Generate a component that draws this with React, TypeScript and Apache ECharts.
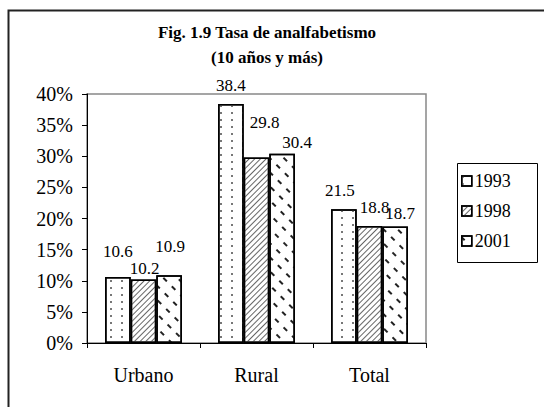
import React, { useEffect, useRef } from 'react';
import * as echarts from 'echarts';

const categories = ['Urbano', 'Rural', 'Total'];
const years = ['1993', '1998', '2001'];
const values1993 = [10.6, 38.4, 21.5];
const values1998 = [10.2, 29.8, 18.8];
const values2001 = [10.9, 30.4, 18.7];
const seriesValues = [values1993, values1998, values2001];
const yMin = 0;
const yMax = 40;
const yStep = 5;

// label nudges (style only), per series per category: [dx, dy]
const labelNudges = [
  [[0, -12], [0, -5], [-4, -5]],
  [[1, 2], [8, -21], [5, -5]],
  [[1, -15], [15, 2], [5, 0]],
];

const FONT = 'Liberation Serif';

const decals: any[] = [
  { symbol: 'rect', symbolSize: 1, dashArrayX: [2, 9], dashArrayY: [2, 5], color: '#777' },
  { symbol: 'rect', symbolSize: 1, dashArrayX: [1, 0], dashArrayY: [1, 2.6], rotation: -Math.PI / 4, color: '#666' },
  { symbol: 'rect', symbolSize: 1, dashArrayX: [5, 7], dashArrayY: [1.5, 8], rotation: Math.PI / 4, color: '#222' },
];

export default function App() {
  const ref = useRef<HTMLDivElement>(null);
  useEffect(() => {
    document.body.style.margin = '0';
    const chart = echarts.init(ref.current!, null, { renderer: 'svg', width: 544, height: 407 });
    const series = years.map((y, si) => ({
      name: y,
      type: 'bar',
      barGap: '0%',
      barCategoryGap: '32%',
      itemStyle: { color: '#fff', borderColor: '#000', borderWidth: 1.5, decal: decals[si] },
      label: {
        show: true,
        position: 'top',
        distance: 5,
        fontFamily: FONT,
        fontSize: 17,
        color: '#000',
      },
      data: seriesValues[si].map((v, ci) => ({
        value: v,
        label: { offset: labelNudges[si][ci], fontFamily: FONT, fontSize: 17 },
      })),
    }));
    chart.setOption({
      animation: false,
      backgroundColor: '#fff',
      textStyle: { fontFamily: FONT },
      title: {
        text: 'Fig. 1.9 Tasa de analfabetismo\n(10 años y más)',
        left: 262,
        top: 15,
        textAlign: 'center',
        textStyle: { fontFamily: FONT, fontWeight: 'bold', fontSize: 17, lineHeight: 25, color: '#000' },
      },
      grid: {
        left: 87,
        top: 94,
        width: 339,
        height: 249,
        show: true,
        borderColor: '#888',
        borderWidth: 1.5,
        backgroundColor: 'transparent',
      },
      legend: {
        data: years,
        orient: 'vertical',
        left: 461,
        top: 172,
        itemWidth: 10,
        itemHeight: 10,
        itemGap: 12,
        padding: 0,
        icon: 'rect',
        itemStyle: { borderColor: '#000', borderWidth: 1.5 },
        textStyle: { fontFamily: FONT, fontSize: 18, color: '#000', padding: [0, 0, 0, -2] },
      },
      xAxis: {
        type: 'category',
        data: categories,
        axisLine: { lineStyle: { color: '#000', width: 1 } },
        axisTick: { show: true, length: 5, lineStyle: { color: '#000' } },
        axisLabel: { fontFamily: FONT, fontSize: 20, color: '#000', margin: 22 },
      },
      yAxis: {
        type: 'value',
        min: yMin,
        max: yMax,
        interval: yStep,
        axisLine: { show: true, lineStyle: { color: '#000', width: 1 } },
        axisTick: { show: true, length: 5, lineStyle: { color: '#000' } },
        splitLine: { show: false },
        axisLabel: { fontFamily: FONT, fontSize: 20, color: '#000', margin: 14, formatter: '{value}%' },
      },
      graphic: [
        {
          type: 'rect',
          shape: { x: 8.5, y: 10.5, width: 600, height: 500 },
          style: { fill: 'none', stroke: '#222', lineWidth: 2 },
          silent: true,
        },
        {
          type: 'rect',
          shape: { x: 457.5, y: 163.5, width: 80, height: 99 },
          style: { fill: 'none', stroke: '#000', lineWidth: 1 },
          silent: true,
        },
      ],
      series,
    });
    return () => chart.dispose();
  }, []);
  return <div ref={ref} style={{ width: 544, height: 407 }} />;
}
